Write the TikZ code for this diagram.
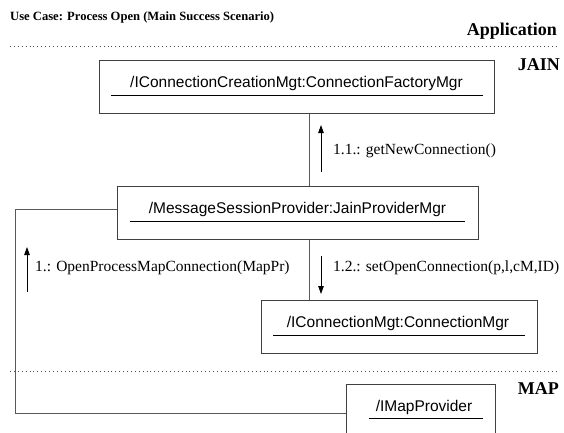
\documentclass[tikz,border=0pt]{standalone}
\usepackage{fontspec}
\setmainfont{Liberation Serif}
\setsansfont{Liberation Sans}
\usetikzlibrary{arrows.meta}
\tikzset{
  objbox/.style={draw=black!75, line width=1pt, minimum width=#1, inner sep=0pt},
  objtext/.style={font=\sffamily\fontsize{15.5}{18}\selectfont, inner sep=0pt, anchor=center},
  uline/.style={draw=black, line width=0.9pt},
  link/.style={draw=black!65, line width=1pt},
  msg/.style={draw=black, line width=0.9pt, -{Triangle[length=8pt,width=5.5pt]}},
  msgtext/.style={font=\fontsize{15.5}{18}\selectfont, inner sep=0pt, anchor=west},
  layer/.style={font=\bfseries\fontsize{18}{20}\selectfont, inner sep=0pt},
  sep/.style={draw=black!70, line width=0.8pt, dash pattern=on 0.9pt off 3pt}
}
\begin{document}
\begin{tikzpicture}[x=1pt,y=-1pt]
\useasboundingbox (0,0) rectangle (564,432);
\begin{scope}
\clip (0,0) rectangle (564,432);

% headings and layer names
\node[font=\bfseries\fontsize{12.6}{14}\selectfont, inner sep=0pt, anchor=west] (title) at (10,17) {Use Case: Process Open (Main Success Scenario)};
\node[layer, anchor=east] (app) at (557,31) {Application};
\node[layer, anchor=east] (jain) at (560,65) {JAIN};
\node[layer, anchor=east] (map) at (559,389) {MAP};

% layer separators
\coordinate (s1a) at (10,46);  \coordinate (s1b) at (558,46);
\coordinate (s2a) at (10,371); \coordinate (s2b) at (558,371);
\draw[sep] (s1a) -- (s1b);
\draw[sep] (s2a) -- (s2b);

% objects
\node[objbox=395pt, minimum height=53pt] (fac) at (296.5,86.5) {};
\node[objtext] (factxt) at (296.5,83) {/IConnectionCreationMgt:ConnectionFactoryMgr};
\draw[uline] (111,95) -- (483,95);

\node[objbox=361pt, minimum height=53pt] (jpm) at (297.5,212.5) {};
\node[objtext] (jpmtxt) at (297.5,209) {/MessageSessionProvider:JainProviderMgr};
\draw[uline] (130,221) -- (465,221);

\node[objbox=276pt, minimum height=53pt] (cm) at (399,326.5) {};
\node[objtext] (cmtxt) at (398,323) {/IConnectionMgt:ConnectionMgr};
\draw[uline] (273,335) -- (525,335);

\node[objbox=149pt, minimum height=54pt] (mp) at (420.5,411) {};
\node[objtext] (mptxt) at (424,407) {/IMapProvider};
\draw[uline] (369,418) -- (483,418);

% links between objects
\draw[link] (fac.south -| 309,0) -- (jpm.north -| 309,0);
\draw[link] (jpm.south -| 309,0) -- (cm.north -| 309,0);
\coordinate (bendtop) at (15,209);
\coordinate (bendbot) at (15,413);
\draw[link] (jpm.west |- 0,209) -- (bendtop) -- (bendbot) -- (mp.west |- 0,413);

% messages
\coordinate (m11a) at (321,172); \coordinate (m11b) at (321,125);
\draw[msg] (m11a) -- (m11b);
\node[msgtext] (m11) at (333,151) {1.1.: getNewConnection()};

\coordinate (m1a) at (27,292); \coordinate (m1b) at (27,247);
\draw[msg] (m1a) -- (m1b);
\node[msgtext] (m1) at (35,268) {1.: OpenProcessMapConnection(MapPr)};

\coordinate (m12a) at (321,256); \coordinate (m12b) at (321,294);
\draw[msg] (m12a) -- (m12b);
\node[msgtext] (m12) at (333,268) {1.2.: setOpenConnection(p,l,cM,ID)};
\end{scope}
\end{tikzpicture}
\end{document}
